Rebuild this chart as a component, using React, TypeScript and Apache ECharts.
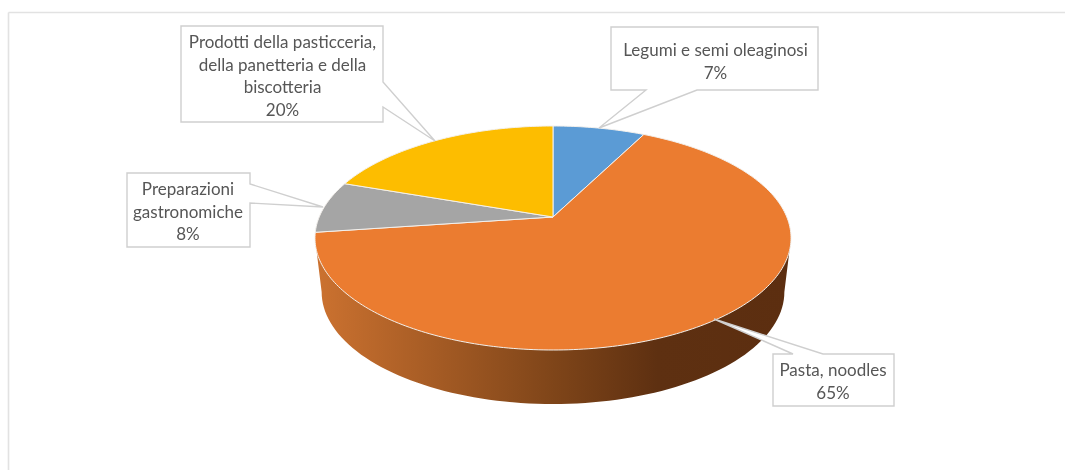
import React, { useEffect, useRef } from "react";
import * as echarts from "echarts";

const categories = [
  "Legumi e semi oleaginosi",
  "Pasta, noodles",
  "Preparazioni\ngastronomiche",
  "Prodotti della pasticceria,\ndella panetteria e della\nbiscotteria",
];
const shares = [7.49, 65.31, 7.5, 19.7];
const sliceColors = ["#5B9BD5", "#EB7C30", "#A5A5A5", "#FDBD00"];

// Pie geometry (projected circle)
const CX = 553;
const CY = 217;
const RX = 233.8;
const RY = 108.06;
const K = -0.1875;
const DEPTH = 54;
const BOTTOM_SCALE = 0.972;

// Callout layout: box [x0, y0, x1, y1], pointer [base A, tip, base B], text centre
const calloutBoxes = [
  [611, 27, 818, 90],
  [773, 354, 894, 406],
  [127, 173, 250, 247],
  [181, 26, 383, 122],
];
// Each outline runs clockwise from the box's top-left corner, pointer included
const calloutPointers = [
  { side: "bottom", pts: [[697, 90], [599, 128], [646, 90]] },
  { side: "top", pts: [[793, 354], [714, 319], [823, 354]] },
  { side: "right", pts: [[250, 184], [323, 207], [250, 203]] },
  { side: "right", pts: [[383, 82], [435, 141], [383, 107]] },
];
const calloutText = [
  [715.5, 61],
  [833, 381],
  [188, 211],
  [282.5, 75.5],
];

function rim(deg: number): number[] {
  const t = (deg * Math.PI) / 180;
  const X = Math.sin(t);
  const Y = -Math.cos(t);
  const d = 1 + K * Y;
  return [CX + (RX * X) / d, CY + (RY * Y) / d];
}

function App() {
  const ref = useRef<HTMLDivElement>(null);
  useEffect(() => {
    document.body.style.margin = "0";
    document.body.style.background = "#fff";
    const chart = echarts.init(ref.current!, null, { renderer: "svg" });
    const total = shares.reduce((a, b) => a + b, 0);

    const renderSide = () => {
      const left = [CX - RX / Math.sqrt(1 - K * K), CY + 21];
      const right = [CX + RX / Math.sqrt(1 - K * K), CY + 21];
      const pts: number[][] = [left];
      const midY = CY + 21 + DEPTH;
      const brx = (RX / Math.sqrt(1 - K * K)) * BOTTOM_SCALE;
      const bry = 112;
      for (let a = 180; a >= 0; a -= 2) {
        const t = (a * Math.PI) / 180;
        pts.push([CX + brx * Math.cos(t), midY + bry * Math.sin(t)]);
      }
      pts.push(right);
      return {
        type: "polygon",
        shape: { points: pts },
        style: {
          fill: new echarts.graphic.LinearGradient(0, 0, 1, 0, [
            { offset: 0, color: "#CC7230" },
            { offset: 0.5, color: "#7F4519" },
            { offset: 0.72, color: "#5E3011" },
            { offset: 1, color: "#5C2E10" },
          ]),
        },
      };
    };

    const renderSlice = (params: any, api: any) => {
      const i = params.dataIndex;
      const before = shares.slice(0, i).reduce((a, b) => a + b, 0);
      const start = (before / total) * 360;
      const end = start + (api.value(0) / total) * 360;
      const pts: number[][] = [[CX, CY]];
      for (let a = start; a < end; a += 1) pts.push(rim(a));
      pts.push(rim(end));
      return {
        type: "polygon",
        shape: { points: pts },
        style: { fill: sliceColors[i], stroke: "#F3F0EC", lineWidth: 1 },
      };
    };

    const renderCallout = (params: any, api: any) => {
      const i = params.dataIndex;
      const [x0, y0, x1, y1] = calloutBoxes[i];
      const { side, pts: p } = calloutPointers[i];
      const outline: number[][] = [[x0, y0]];
      if (side === "top") outline.push(...p);
      outline.push([x1, y0]);
      if (side === "right") outline.push(...p);
      outline.push([x1, y1]);
      if (side === "bottom") outline.push(...p);
      outline.push([x0, y1]);
      const [tx, ty] = calloutText[i];
      return {
        type: "group",
        children: [
          {
            type: "polygon",
            shape: { points: outline },
            style: { fill: "#FFFFFF", stroke: "#CFCFCF", lineWidth: 1.4 },
          },
          {
            type: "text",
            style: {
              text: `${categories[i]}\n${Math.round(api.value(0))}%`,
              x: tx,
              y: ty,
              align: "center",
              verticalAlign: "middle",
              fontFamily: "Lato",
              fontSize: 17,
              lineHeight: 22.4,
              fill: "#565656",
            },
          },
        ],
      };
    };

    chart.setOption({
      animation: false,
      graphic: [
        { type: "line", shape: { x1: 8.5, y1: 12.5, x2: 1065, y2: 12.5 }, style: { stroke: "#E2E2E2", lineWidth: 1.6 } },
        { type: "line", shape: { x1: 8.5, y1: 12.5, x2: 8.5, y2: 470 }, style: { stroke: "#E2E2E2", lineWidth: 1.6 } },
      ],
      series: [
        { type: "custom", coordinateSystem: "none", silent: true, data: [total], renderItem: renderSide, z: 1 },
        { type: "custom", coordinateSystem: "none", silent: true, data: shares, renderItem: renderSlice, z: 2 },
        { type: "custom", coordinateSystem: "none", silent: true, data: shares, renderItem: renderCallout, z: 3 },
      ],
    });
    return () => chart.dispose();
  }, []);
  return <div ref={ref} style={{ width: 1065, height: 470, filter: "blur(0.45px)" }} />;
}

export default App;
